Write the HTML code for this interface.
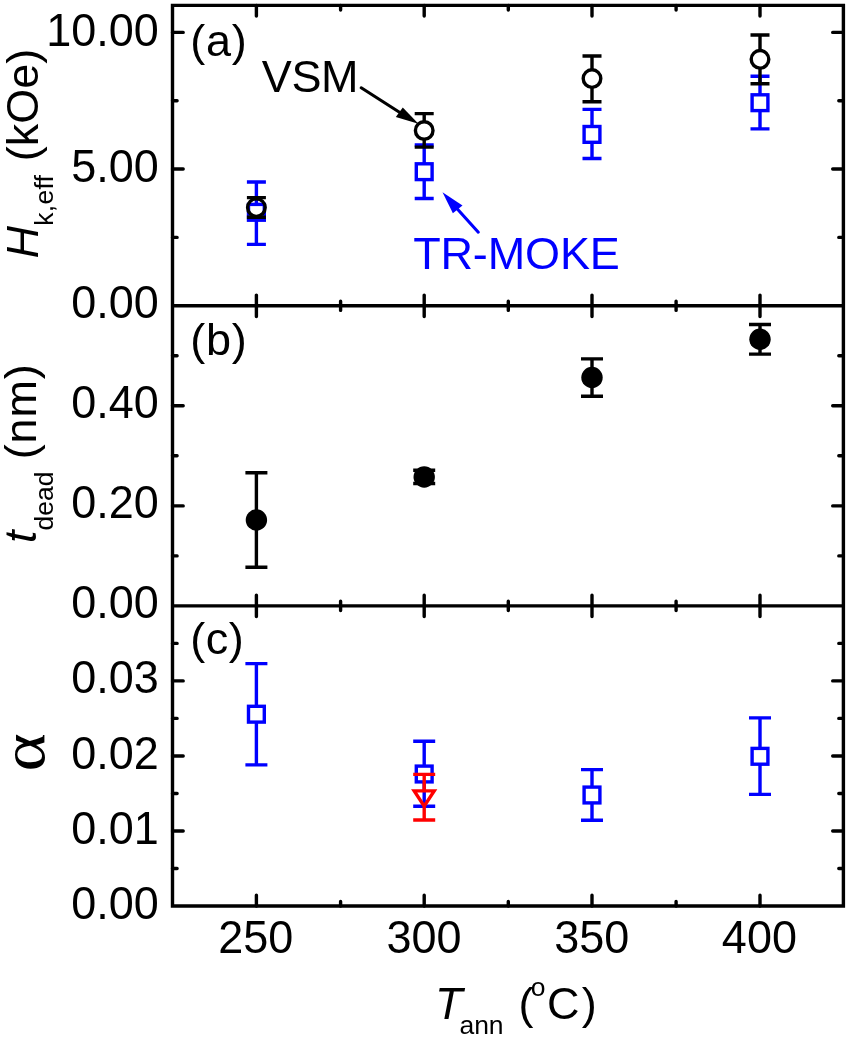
<!DOCTYPE html>
<html lang="en"><head><meta charset="utf-8"><title>Figure</title>
<style>
html,body{margin:0;padding:0;background:#fff;}
body{width:850px;height:1039px;overflow:hidden;}
svg{display:block;}
text{font-family:"Liberation Sans",Arial,Helvetica,sans-serif;fill:#000;}
.t{font-size:45px;}
.s{font-size:26.5px;}
.i{font-style:italic;}
.bl{fill:#0000ff;}
.k{stroke:#000;stroke-width:3.4;fill:none;}
.tk{stroke:#000;stroke-width:3.4;stroke-linecap:round;fill:none;}
.eb{stroke:#000;stroke-width:3.4;fill:none;}
.ebb{stroke:#0000ff;stroke-width:3.4;fill:none;}
.ebr{stroke:#ff0000;stroke-width:3.4;fill:none;}
</style></head><body>
<svg width="850" height="1039" viewBox="0 0 850 1039">
<rect x="0" y="0" width="850" height="1039" fill="#fff"/>
<g id="panel-a">
<path class="ebb" d="M246.9 182.0H265.9M246.9 244.4H265.9M256.4 182.0V204.3M256.4 220.3V244.4"/>
<rect class="ebb" x="248.5" y="204.4" width="15.8" height="15.8"/>
<path class="ebb" d="M414.7 145.0H433.7M414.7 198.5H433.7M424.2 145.0V163.7M424.2 179.7V198.5"/>
<rect class="ebb" x="416.3" y="163.8" width="15.8" height="15.8"/>
<path class="ebb" d="M582.5 109.4H601.5M582.5 158.5H601.5M592.0 109.4V126.4M592.0 142.4V158.5"/>
<rect class="ebb" x="584.1" y="126.5" width="15.8" height="15.8"/>
<path class="ebb" d="M750.5 76.2H769.5M750.5 128.9H769.5M760.0 76.2V94.7M760.0 110.7V128.9"/>
<rect class="ebb" x="752.1" y="94.8" width="15.8" height="15.8"/>
<path class="eb" d="M246.9 197.6H265.9M246.9 217.2H265.9M256.4 197.6V198.6M256.4 216.6V217.2"/>
<circle class="eb" cx="256.4" cy="207.6" r="8.8"/>
<path class="eb" d="M414.7 113.6H433.7M414.7 147.1H433.7M424.2 113.6V121.5M424.2 139.5V147.1"/>
<circle class="eb" cx="424.2" cy="130.5" r="8.8"/>
<path class="eb" d="M582.5 56.0H601.5M582.5 101.8H601.5M592.0 56.0V69.6M592.0 87.6V101.8"/>
<circle class="eb" cx="592.0" cy="78.6" r="8.8"/>
<path class="eb" d="M750.5 35.0H769.5M750.5 83.8H769.5M760.0 35.0V50.3M760.0 68.3V83.8"/>
<circle class="eb" cx="760.0" cy="59.3" r="8.8"/>
</g>
<g id="panel-b">
<path class="eb" d="M245.4 472.7H267.4M245.4 567.3H267.4M256.4 472.7V520.0M256.4 520.0V567.3"/>
<circle cx="256.4" cy="520.0" r="10.7" fill="#000"/>
<path class="eb" d="M413.2 470.3H435.2M413.2 483.5H435.2M424.2 470.3V477.0M424.2 477.0V483.5"/>
<circle cx="424.2" cy="477.0" r="10.7" fill="#000"/>
<path class="eb" d="M581.0 358.9H603.0M581.0 396.3H603.0M592.0 358.9V377.5M592.0 377.5V396.3"/>
<circle cx="592.0" cy="377.5" r="10.7" fill="#000"/>
<path class="eb" d="M749.0 324.5H771.0M749.0 354.1H771.0M760.0 324.5V339.2M760.0 339.2V354.1"/>
<circle cx="760.0" cy="339.2" r="10.7" fill="#000"/>
</g>
<g id="panel-c">
<path class="ebb" d="M245.4 663.6H267.4M245.4 764.9H267.4M256.4 663.6V706.2M256.4 722.2V764.9"/>
<rect class="ebb" x="248.5" y="706.3" width="15.8" height="15.8"/>
<path class="ebb" d="M413.2 741.2H435.2M413.2 806.2H435.2M424.2 741.2V766.0M424.2 782.0V806.2"/>
<rect class="ebb" x="416.3" y="766.1" width="15.8" height="15.8"/>
<path class="ebb" d="M581.0 769.6H603.0M581.0 820.2H603.0M592.0 769.6V787.0M592.0 803.0V820.2"/>
<rect class="ebb" x="584.1" y="787.1" width="15.8" height="15.8"/>
<path class="ebb" d="M749.0 717.9H771.0M749.0 794.4H771.0M760.0 717.9V748.3M760.0 764.3V794.4"/>
<rect class="ebb" x="752.1" y="748.4" width="15.8" height="15.8"/>
<path class="ebr" d="M413.2 774.4H435.2M413.2 820H435.2M424.2 774.4V790.9M424.2 807V820"/>
<path class="ebr" d="M414.2 790.9H434.2L424.2 806.2Z"/>
</g>
<g id="axes">
<path class="k" stroke-linejoin="miter" d="M172.5 5.4H843.4V906.0H172.5Z M172.5 305.8H843.4 M172.5 605.9H843.4"/>
<path class="tk" d="M256.4 5.4v10.7M256.4 295.1V316.5M256.4 595.1999999999999V616.6M256.4 906.0v-10.7M424.2 5.4v10.7M424.2 295.1V316.5M424.2 595.1999999999999V616.6M424.2 906.0v-10.7M592.0 5.4v10.7M592.0 295.1V316.5M592.0 595.1999999999999V616.6M592.0 906.0v-10.7M760.0 5.4v10.7M760.0 295.1V316.5M760.0 595.1999999999999V616.6M760.0 906.0v-10.7M340.6 5.4v4.6M340.6 301.2V310.40000000000003M340.6 601.3V610.5M340.6 906.0v-4.6M508.3 5.4v4.6M508.3 301.2V310.40000000000003M508.3 601.3V610.5M508.3 906.0v-4.6M676.1 5.4v4.6M676.1 301.2V310.40000000000003M676.1 601.3V610.5M676.1 906.0v-4.6M172.5 32.4h10.7M843.4 32.4h-10.7M172.5 169.0h10.7M843.4 169.0h-10.7M172.5 100.8h4.6M843.4 100.8h-4.6M172.5 237.4h4.6M843.4 237.4h-4.6M172.5 405.8h10.7M843.4 405.8h-10.7M172.5 505.9h10.7M843.4 505.9h-10.7M172.5 355.8h4.6M843.4 355.8h-4.6M172.5 455.8h4.6M843.4 455.8h-4.6M172.5 555.9h4.6M843.4 555.9h-4.6M172.5 680.9h10.7M843.4 680.9h-10.7M172.5 756.0h10.7M843.4 756.0h-10.7M172.5 831.0h10.7M843.4 831.0h-10.7M172.5 643.4h4.6M843.4 643.4h-4.6M172.5 718.4h4.6M843.4 718.4h-4.6M172.5 793.5h4.6M843.4 793.5h-4.6M172.5 868.5h4.6M843.4 868.5h-4.6"/>
</g>
<g id="ticklabels" class="t" text-anchor="end">
<text transform="translate(158.9 45.9) scale(1 1.035)">10.00</text>
<text transform="translate(158.9 181.5) scale(1 1.035)">5.00</text>
<text transform="translate(158.9 318.3) scale(1 1.035)">0.00</text>
<text transform="translate(158.9 418.3) scale(1 1.035)">0.40</text>
<text transform="translate(158.9 518.4) scale(1 1.035)">0.20</text>
<text transform="translate(158.9 618.4) scale(1 1.035)">0.00</text>
<text transform="translate(158.9 693.4) scale(1 1.035)">0.03</text>
<text transform="translate(158.9 768.5) scale(1 1.035)">0.02</text>
<text transform="translate(158.9 843.5) scale(1 1.035)">0.01</text>
<text transform="translate(158.9 918.6) scale(1 1.035)">0.00</text>
</g>
<g id="xlabels" class="t" text-anchor="middle">
<text transform="translate(255.8 952.9) scale(1 1.035)">250</text>
<text transform="translate(424.0 952.9) scale(1 1.035)">300</text>
<text transform="translate(591.8 952.9) scale(1 1.035)">350</text>
<text transform="translate(759.4 952.9) scale(1 1.035)">400</text>
</g>
<g id="titles">
<text class="t" y="1018.9"><tspan class="i" x="435">T</tspan><tspan class="s" x="459.4" dy="14.6">ann</tspan><tspan x="518.5" dy="-14.6">(</tspan><tspan class="s" x="530.8" dy="-22.6">o</tspan><tspan x="547" dy="22.6">C</tspan><tspan x="581.8">)</tspan></text>
<text class="t" transform="translate(37.5 258.6) rotate(-90)"><tspan class="i">H</tspan><tspan class="s" dy="15.5" dx="0.4" letter-spacing="0.25">k,eff</tspan><tspan dy="-15.5" dx="1"> (kOe)</tspan></text>
<text class="t" transform="translate(36.3 543) rotate(-90)"><tspan class="i">t</tspan><tspan class="s" dy="16.2">dead</tspan><tspan dy="-16.2" dx="-1" letter-spacing="0.8"> (nm)</tspan></text>
<text transform="translate(43.6 771.5) rotate(-90) scale(1.26 1.04)" style="font-family:'Liberation Serif','DejaVu Serif',serif;font-size:58px">α</text>
</g>
<g id="annotations">
<text class="t" x="190.2" y="55.9" letter-spacing="0.8">(a)</text>
<text class="t" x="190.2" y="355.2" letter-spacing="0.8">(b)</text>
<text class="t" x="190.2" y="653.6" letter-spacing="0.5">(c)</text>
<text class="t" x="261.8" y="92.3" letter-spacing="-0.4">VSM</text>
<text class="t bl" x="413.2" y="269.3" letter-spacing="-0.15">TR-MOKE</text>
<path d="M361.2 87.8L401 113.2" stroke="#000" stroke-width="3.1" stroke-linecap="round" fill="none"/>
<path d="M418.4 123.8L402.8 107.5L395.8 117Z" fill="#000"/>
<path d="M478.3 232.2L456 207.5" stroke="#0000ff" stroke-width="3.1" stroke-linecap="round" fill="none"/>
<path d="M442.5 192.2L462.5 205.4L452.9 213.2Z" fill="#0000ff"/>
</g>
</svg>
</body></html>
